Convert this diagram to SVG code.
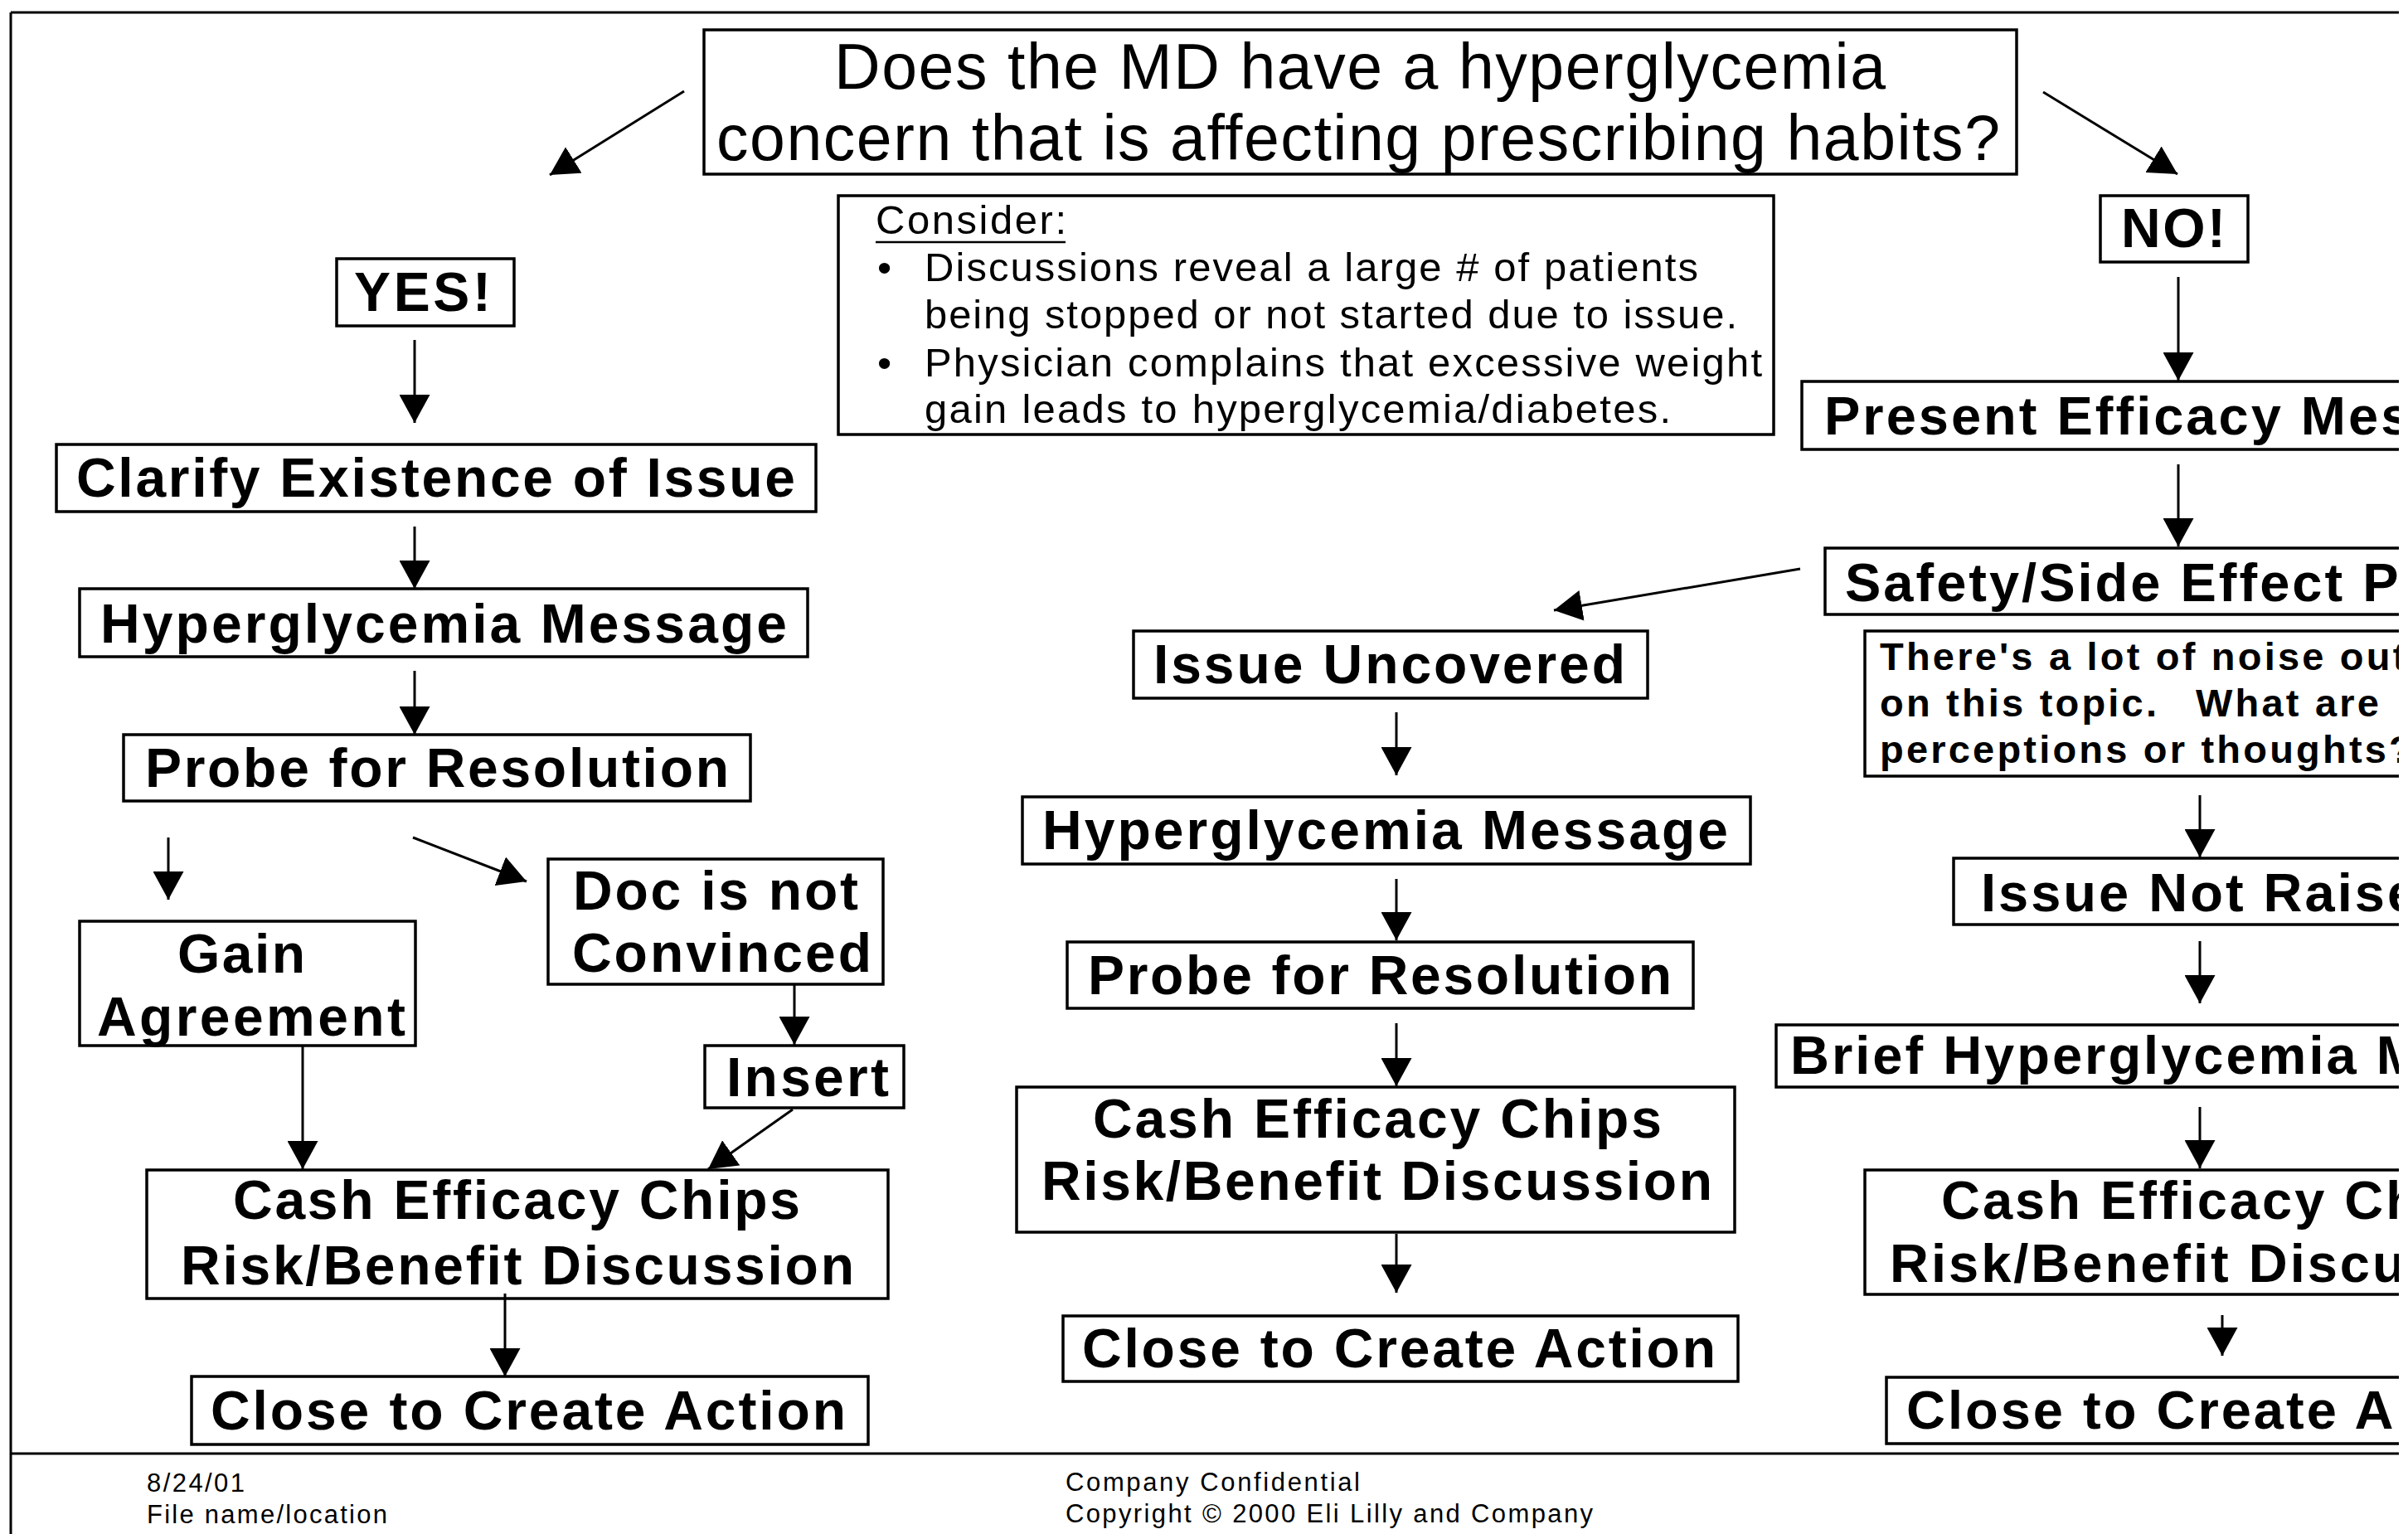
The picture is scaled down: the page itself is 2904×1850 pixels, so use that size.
<svg xmlns="http://www.w3.org/2000/svg" width="2904" height="1850" viewBox="0 0 2904 1850">
<defs>
<style>
.box{fill:#fff;stroke:#000;stroke-width:3.5}
.t{font-family:"Liberation Sans",Arial,Helvetica,sans-serif;font-weight:bold;font-size:66px;fill:#000}
.r{font-size:65px;letter-spacing:3px}
.q{font-family:"Liberation Sans",Arial,Helvetica,sans-serif;font-size:77px;fill:#000}
.c{font-family:"Liberation Sans",Arial,Helvetica,sans-serif;font-size:49px;fill:#000}
.n{font-family:"Liberation Sans",Arial,Helvetica,sans-serif;font-weight:bold;font-size:47px;fill:#000;letter-spacing:3.2px}
.f{font-family:"Liberation Sans",Arial,Helvetica,sans-serif;font-size:31px;fill:#000}
.frame{stroke:#000;stroke-width:3;fill:none}
#connectors line{stroke:#000;stroke-width:3;marker-end:url(#ah)}
</style>
<marker id="ah" markerUnits="userSpaceOnUse" markerWidth="34" markerHeight="37" viewBox="0 0 34 37" refX="34" refY="18.5" orient="auto">
<path d="M0,0 L34,18.5 L0,37 Z" fill="#000"/>
</marker>
<clipPath id="page"><rect x="0" y="0" width="2893" height="1850"/></clipPath>
</defs>
<rect x="0" y="0" width="2904" height="1850" fill="#fff"/>
<g clip-path="url(#page)">
<g id="frame">
<line class="frame" x1="13" y1="15" x2="2893" y2="15"/>
<line class="frame" x1="13" y1="15" x2="13" y2="1850"/>
<line class="frame" x1="13" y1="1753" x2="2893" y2="1753"/>
</g>

<g id="question">
<rect class="box" x="849" y="36" width="1583" height="174"/>
<text class="q" x="1006" y="107" textLength="1268">Does the MD have a hyperglycemia</text>
<text class="q" x="864" y="193" textLength="1548">concern that is affecting prescribing habits?</text>
</g>

<g id="consider">
<rect class="box" x="1011" y="236" width="1128" height="288"/>
<text class="c" x="1056" y="282" textLength="230">Consider:</text>
<line x1="1056" y1="292" x2="1285" y2="292" stroke="#000" stroke-width="2.5"/>
<text class="c" x="1058" y="339">•</text>
<text class="c" x="1115" y="339" textLength="933">Discussions reveal a large # of patients</text>
<text class="c" x="1115" y="396" textLength="980">being stopped or not started due to issue.</text>
<text class="c" x="1058" y="454">•</text>
<text class="c" x="1115" y="454" textLength="1010">Physician complains that excessive weight</text>
<text class="c" x="1115" y="510" textLength="900">gain leads to hyperglycemia/diabetes.</text>
</g>

<g id="yes">
<rect class="box" x="406" y="312" width="214" height="81"/>
<text class="t" x="427" y="375" textLength="165">YES!</text>
</g>
<g id="clarify">
<rect class="box" x="68" y="536" width="916" height="81"/>
<text class="t" x="92" y="599" textLength="867">Clarify Existence of Issue</text>
</g>
<g id="hyper-left">
<rect class="box" x="96" y="710" width="878" height="82"/>
<text class="t" x="121" y="775" textLength="828">Hyperglycemia Message</text>
</g>
<g id="probe-left">
<rect class="box" x="149" y="886" width="756" height="80"/>
<text class="t" x="175" y="949" textLength="704">Probe for Resolution</text>
</g>
<g id="gain">
<rect class="box" x="96" y="1111" width="405" height="150"/>
<text class="t" x="214" y="1173" textLength="154">Gain</text>
<text class="t" x="117" y="1249" textLength="372">Agreement</text>
</g>
<g id="doc">
<rect class="box" x="661" y="1036" width="404" height="151"/>
<text class="t" x="691" y="1097" textLength="344">Doc is not</text>
<text class="t" x="690" y="1172" textLength="361">Convinced</text>
</g>
<g id="insert">
<rect class="box" x="850" y="1261" width="240" height="75"/>
<text class="t" x="876" y="1322" textLength="196">Insert</text>
</g>
<g id="cash-left">
<rect class="box" x="177" y="1411" width="894" height="155"/>
<text class="t" x="281" y="1470" textLength="684">Cash Efficacy Chips</text>
<text class="t" x="218" y="1549" textLength="812">Risk/Benefit Discussion</text>
</g>
<g id="close-left">
<rect class="box" x="231" y="1660" width="816" height="82"/>
<text class="t" x="254" y="1724" textLength="766">Close to Create Action</text>
</g>

<g id="issue-uncovered">
<rect class="box" x="1367" y="761" width="620" height="81"/>
<text class="t" x="1391" y="824" textLength="569">Issue Uncovered</text>
</g>
<g id="hyper-mid">
<rect class="box" x="1233" y="961" width="878" height="81"/>
<text class="t" x="1257" y="1024" textLength="827">Hyperglycemia Message</text>
</g>
<g id="probe-mid">
<rect class="box" x="1287" y="1136" width="755" height="80"/>
<text class="t" x="1312" y="1199" textLength="704">Probe for Resolution</text>
</g>
<g id="cash-mid">
<rect class="box" x="1226" y="1311" width="866" height="175"/>
<text class="t" x="1318" y="1372" textLength="686">Cash Efficacy Chips</text>
<text class="t" x="1256" y="1447" textLength="809">Risk/Benefit Discussion</text>
</g>
<g id="close-mid">
<rect class="box" x="1282" y="1587" width="814" height="79"/>
<text class="t" x="1305" y="1649" textLength="764">Close to Create Action</text>
</g>

<g id="no">
<rect class="box" x="2533" y="236" width="178" height="80"/>
<text class="t" x="2558" y="298" textLength="126">NO!</text>
</g>
<g id="present">
<rect class="box" x="2173" y="460" width="800" height="82"/>
<text class="t r" x="2200" y="524">Present Efficacy Mes</text>
</g>
<g id="safety">
<rect class="box" x="2201" y="661" width="800" height="80"/>
<text class="t r" x="2225" y="725">Safety/Side Effect P</text>
</g>
<g id="noise">
<rect class="box" x="2249" y="761" width="800" height="175"/>
<text class="n" x="2267" y="808">There's a lot of noise out</text>
<text class="n" x="2267" y="864">on this topic.<tspan x="2648">What are</tspan></text>
<text class="n" x="2267" y="920">perceptions or thoughts?</text>
</g>
<g id="issue-not-raised">
<rect class="box" x="2356" y="1035" width="800" height="80"/>
<text class="t r" x="2389" y="1099">Issue Not Raise</text>
</g>
<g id="brief">
<rect class="box" x="2142" y="1236" width="900" height="75"/>
<text class="t r" x="2159" y="1295">Brief Hyperglycemia M</text>
</g>
<g id="cash-right">
<rect class="box" x="2249" y="1411" width="800" height="150"/>
<text class="t r" x="2341" y="1470">Cash Efficacy Ch</text>
<text class="t r" x="2279" y="1546">Risk/Benefit Discu</text>
</g>
<g id="close-right">
<rect class="box" x="2275" y="1661" width="800" height="80"/>
<text class="t r" x="2299" y="1723">Close to Create A</text>
</g>

<g id="connectors">
<line x1="825" y1="110" x2="663" y2="211"/>
<line x1="2464" y1="111" x2="2626" y2="210"/>
<line x1="500" y1="410" x2="500" y2="510"/>
<line x1="500" y1="635" x2="500" y2="710"/>
<line x1="500" y1="809" x2="500" y2="886"/>
<line x1="203" y1="1010" x2="203" y2="1085"/>
<line x1="498" y1="1010" x2="635" y2="1063"/>
<line x1="958" y1="1187" x2="958" y2="1260"/>
<line x1="365" y1="1261" x2="365" y2="1410"/>
<line x1="956" y1="1338" x2="854" y2="1410"/>
<line x1="609" y1="1560" x2="609" y2="1660"/>
<line x1="2171" y1="686" x2="1874" y2="736"/>
<line x1="1684" y1="859" x2="1684" y2="935"/>
<line x1="1684" y1="1060" x2="1684" y2="1134"/>
<line x1="1684" y1="1234" x2="1684" y2="1310"/>
<line x1="1684" y1="1488" x2="1684" y2="1559"/>
<line x1="2627" y1="334" x2="2627" y2="459"/>
<line x1="2627" y1="560" x2="2627" y2="659"/>
<line x1="2653" y1="959" x2="2653" y2="1034"/>
<line x1="2653" y1="1135" x2="2653" y2="1210"/>
<line x1="2653" y1="1335" x2="2653" y2="1409"/>
<line x1="2680" y1="1586" x2="2680" y2="1635"/>
</g>

<g id="footer">
<text class="f" x="177" y="1799" textLength="118">8/24/01</text>
<text class="f" x="177" y="1837" textLength="290">File name/location</text>
<text class="f" x="1285" y="1798" textLength="355">Company Confidential</text>
<text class="f" x="1285" y="1836" textLength="636">Copyright © 2000 Eli Lilly and Company</text>
</g>
</g>
</svg>
